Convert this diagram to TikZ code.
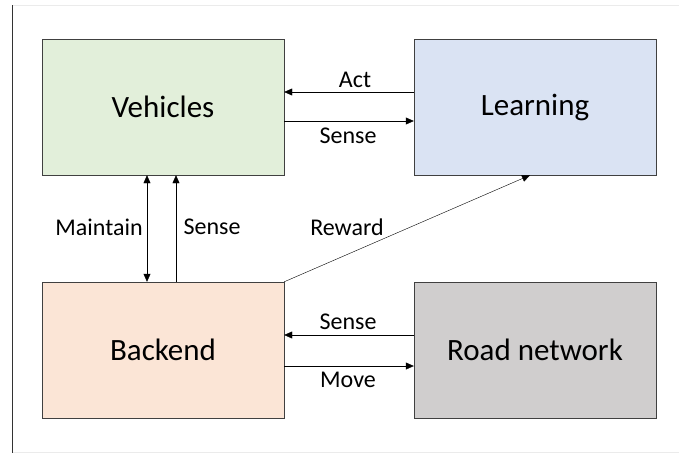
\documentclass[tikz,border=0pt]{standalone}
\usepackage{fontspec}
\setmainfont{Carlito}
\usetikzlibrary{arrows.meta}

\begin{document}
\begin{tikzpicture}[x=1pt,y=-1pt]
   \tikzstyle{block}=[draw=black!75,minimum width=242pt,minimum height=136pt,font=\fontsize{31}{34}\selectfont,inner sep=0pt]
   \tikzstyle{arrow}=[draw,-{Triangle[length=8pt,width=7pt]}]
   \tikzstyle{both}=[draw,{Triangle[length=8pt,width=7pt]}-{Triangle[length=8pt,width=7pt]}]
   \tikzstyle{lbl}=[font=\fontsize{24}{26}\selectfont,inner sep=0pt]
   \useasboundingbox (0,0) rectangle (679,453);
   % page frame
   \draw [black!8] (12,5) -- (679,5) ;
   \draw [black!8] (12,452) -- (679,452) ;
   \draw [black!80] (12,5) -- (12,453) ;
   \node (veh) [block,fill={rgb,255:red,226;green,239;blue,218}] at (163,107) {Vehicles} ;
   \node (learn) [block,fill={rgb,255:red,218;green,227;blue,243}] at (535,107) {Learning} ;
   \node (back) [block,fill={rgb,255:red,251;green,229;blue,214}] at (163,350) {Backend} ;
   \node (road) [block,fill={rgb,255:red,208;green,206;blue,206}] at (535,350) {Road network} ;
   \path [arrow] ([yshift=15pt]learn.west) -- ([yshift=15pt]veh.east) ;
   \path [arrow] ([yshift=-14pt]veh.east) -- ([yshift=-14pt]learn.west) ;
   \path [both] ([xshift=-16pt]veh.south) -- ([xshift=-16pt]back.north) ;
   \path [arrow] ([xshift=13pt]back.north) -- ([xshift=13pt]veh.south) ;
   \path [arrow] (back.north east) -- ([xshift=-5pt]learn.south) ;
   \path [arrow] ([yshift=15pt]road.west) -- ([yshift=15pt]back.east) ;
   \path [arrow] ([yshift=-16pt]back.east) -- ([yshift=-16pt]road.west) ;
   \node [lbl] at (355,80) {Act} ;
   \node [lbl] at (348,136) {Sense} ;
   \node [lbl] at (99,227) {Maintain} ;
   \node [lbl] at (212,227) {Sense} ;
   \node [lbl] at (347,227) {Reward} ;
   \node [lbl] at (348,322) {Sense} ;
   \node [lbl] at (348,380) {Move} ;
\end{tikzpicture}
\end{document}
